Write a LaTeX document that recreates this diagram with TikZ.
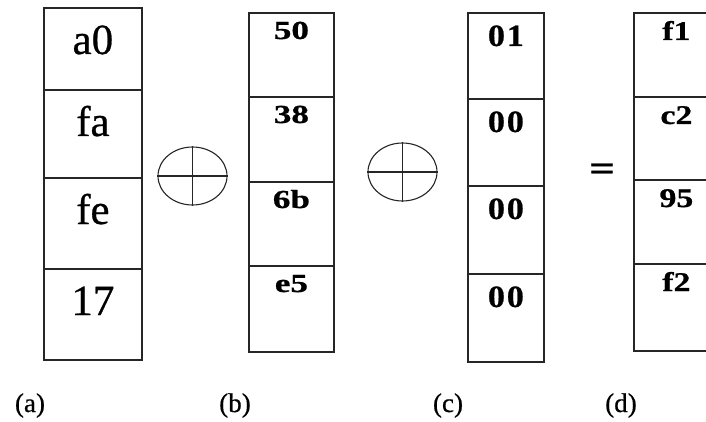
\documentclass[tikz,border=0pt]{standalone}
\usepackage{fontspec}
\setmainfont{Liberation Serif}
\newfontfamily\fa{Liberation Serif}[FakeBold=0.6]
\newfontfamily\fb{Liberation Serif}[FakeStretch=1.35,FakeBold=0.8]
\newfontfamily\fc{Liberation Serif}[FakeStretch=1.1,LetterSpace=6,FakeBold=0.8]
\newfontfamily\fd{Liberation Serif}[FakeStretch=1.25,FakeBold=0.8]
\usetikzlibrary{shapes.geometric}
\begin{document}
\begin{tikzpicture}[x=1pt,y=-1pt,
  cell/.style={draw=black!85, line width=1.8pt, rectangle, inner sep=0pt, anchor=north west},
  xorsym/.style={draw=black!85, ellipse, line width=1.1pt, inner sep=0pt, minimum width=69pt, minimum height=58pt},
  crossline/.style={draw=black!85, line width=1.2pt},
  ta/.style={anchor=base, inner sep=0pt, font=\fa\fontsize{43}{46}\selectfont, yshift=-47pt},
  tb/.style={anchor=base, inner sep=0pt, font=\fb\bfseries\fontsize{26}{28}\selectfont, yshift=-27pt},
  tc/.style={anchor=base, inner sep=0pt, font=\fc\bfseries\fontsize{31}{34}\selectfont, yshift=-34pt},
  td/.style={anchor=base, inner sep=0pt, font=\fd\bfseries\fontsize{27}{30}\selectfont, yshift=-28pt},
  lab/.style={anchor=base, inner sep=0pt, font=\fa\fontsize{27}{30}\selectfont}]
\useasboundingbox (0,0) rectangle (706,422);
\clip (0,0) rectangle (706,422);
\fill[white] (0,0) rectangle (706,422);
% column (a)
\node[cell, minimum width=98pt, minimum height=82pt] (a1) at (43,7) {};
\node[cell, minimum width=98pt, minimum height=88pt] (a2) at (43,89) {};
\node[cell, minimum width=98pt, minimum height=91pt] (a3) at (43,177) {};
\node[cell, minimum width=98pt, minimum height=91pt] (a4) at (43,268) {};
\node[ta] (ta1) at (a1.north) {a0};
\node[ta] (ta2) at (a2.north) {fa};
\node[ta] (ta3) at (a3.north) {fe};
\node[ta] (ta4) at (a4.north) {17};
% xor 1
\node[xorsym] (x1) at (192.5,176) {};
\draw[crossline] (x1.north) -- (x1.south);
\draw[crossline] (x1.west) -- (x1.east);
% column (b)
\node[cell, minimum width=85pt, minimum height=84pt] (b1) at (248,12) {};
\node[cell, minimum width=85pt, minimum height=85pt] (b2) at (248,96) {};
\node[cell, minimum width=85pt, minimum height=84pt] (b3) at (248,181) {};
\node[cell, minimum width=85pt, minimum height=86pt] (b4) at (248,265) {};
\node[tb] (tb1) at (b1.north) {50};
\node[tb] (tb2) at (b2.north) {38};
\node[tb] (tb3) at (b3.north) {6b};
\node[tb] (tb4) at (b4.north) {e5};
% xor 2
\node[xorsym] (x2) at (402.5,172) {};
\draw[crossline] (x2.north) -- (x2.south);
\draw[crossline] (x2.west) -- (x2.east);
% column (c)
\node[cell, minimum width=76pt, minimum height=86pt] (c1) at (467,12) {};
\node[cell, minimum width=76pt, minimum height=87pt] (c2) at (467,98) {};
\node[cell, minimum width=76pt, minimum height=88pt] (c3) at (467,185) {};
\node[cell, minimum width=76pt, minimum height=88pt] (c4) at (467,273) {};
\node[tc] (tc1) at (c1.north) {01};
\node[tc] (tc2) at (c2.north) {00};
\node[tc] (tc3) at (c3.north) {00};
\node[tc] (tc4) at (c4.north) {00};
% equals
\node[anchor=center, inner sep=0pt, font=\fd\bfseries\fontsize{36}{38}\selectfont] (eq) at (602,172) {=};
% column (d)
\node[cell, minimum width=85pt, minimum height=84pt] (d1) at (633,12) {};
\node[cell, minimum width=85pt, minimum height=83pt] (d2) at (633,96) {};
\node[cell, minimum width=85pt, minimum height=84pt] (d3) at (633,179) {};
\node[cell, minimum width=85pt, minimum height=87pt] (d4) at (633,263) {};
\node[td] (td1) at (d1.north) {f1};
\node[td] (td2) at (d2.north) {c2};
\node[td] (td3) at (d3.north) {95};
\node[td] (td4) at (d4.north) {f2};
% labels
\node[lab] (la) at (30,412) {(a)};
\node[lab] (lb) at (235,412) {(b)};
\node[lab] (lc) at (448,412) {(c)};
\node[lab] (ld) at (621,412) {(d)};
\end{tikzpicture}
\end{document}
